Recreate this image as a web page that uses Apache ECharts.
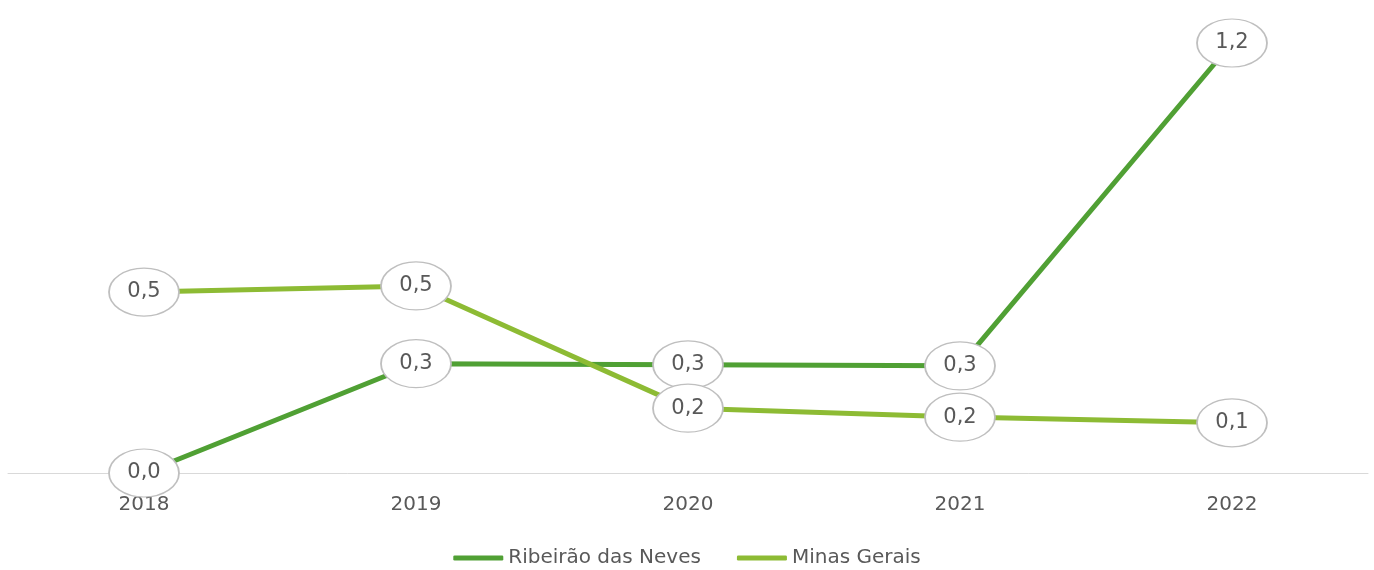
<!DOCTYPE html>
<html>
<head>
<meta charset="utf-8">
<script src="https://cdn.jsdelivr.net/npm/echarts@6/dist/echarts.min.js"></script>
<style>
  html, body { margin: 0; padding: 0; background: #fff; }
  #chart { width: 1374px; height: 570px; }
</style>
</head>
<body>
<div id="chart"></div>
<script>
// DADOS
var anos = ['2018', '2019', '2020', '2021', '2022'];
var ribeirao = [0.0, 0.305, 0.302, 0.299, 1.2];
var minas = [0.505, 0.522, 0.181, 0.156, 0.14];

var corRibeirao = '#50a034';
var corMinas = '#8dbb34';
var fonte = '"DejaVu Sans", sans-serif';

// ELIPSE DOS RÓTULOS
var elipse = 'path://M0,50 A50,50 0 1,1 100,50 A50,50 0 1,1 0,50 Z';

function serie(nome, dados, cor) {
    return {
        name: nome,
        type: 'line',
        data: dados,
        clip: false,
        symbol: elipse,
        symbolSize: [70, 48],
        showSymbol: true,
        lineStyle: { color: cor, width: 5 },
        itemStyle: { color: '#fff', borderColor: '#bfbfbf', borderWidth: 1.5 },
        label: {
            show: true,
            position: 'inside',
            color: '#595959',
            fontFamily: fonte,
            fontSize: 21,
            formatter: function (p) { return p.value.toFixed(1).replace('.', ','); }
        },
        emphasis: { disabled: true },
        animation: false
    };
}

var myChart = echarts.init(document.getElementById('chart'));

var option = {
    backgroundColor: '#fff',
    grid: { left: 8, right: 6, top: 43, bottom: 97 },
    legend: {
        bottom: -3,
        itemWidth: 50,
        itemHeight: 5,
        itemGap: 36,
        icon: 'roundRect',
        textStyle: { color: '#595959', fontSize: 20, fontFamily: fonte },
        data: [
            { name: 'Ribeirão das Neves', itemStyle: { color: corRibeirao, borderWidth: 0 } },
            { name: 'Minas Gerais', itemStyle: { color: corMinas, borderWidth: 0 } }
        ]
    },
    xAxis: {
        type: 'category',
        data: anos,
        boundaryGap: true,
        axisLine: { lineStyle: { color: '#d9d9d9', width: 1 } },
        axisTick: { show: false },
        axisLabel: { color: '#595959', fontSize: 20, fontFamily: fonte, margin: 22 }
    },
    yAxis: {
        type: 'value',
        min: 0,
        max: 1.2,
        show: false,
        splitLine: { show: false }
    },
    series: [
        serie('Ribeirão das Neves', ribeirao, corRibeirao),
        serie('Minas Gerais', minas, corMinas)
    ]
};
myChart.setOption(option);
</script>
</body>
</html>
